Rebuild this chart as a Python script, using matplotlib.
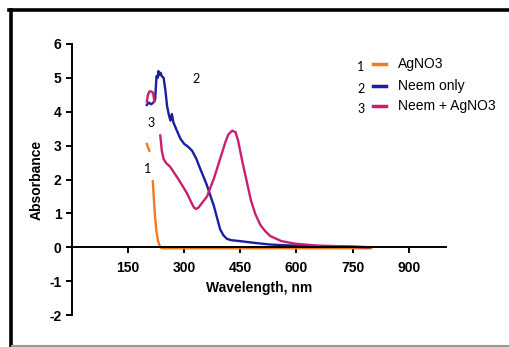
import matplotlib.pyplot as plt
from matplotlib.lines import Line2D
import numpy as np

# data
orange_wl = [200, 203, 207, np.nan, 216, 219, 222, 226, 230, 234, 238, 245, 800]
orange_abs = [3.05, 2.95, 2.85, np.nan, 1.95, 1.4, 0.9, 0.45, 0.18, 0.05, -0.02, -0.03, -0.03]

blue_wl = [200, 205, 212, 218, 222, 226, 229, 231, 234, 237, 240, 245, 250, 254, 258, 263, 267,
           271, 280, 290, 300, 310, 321, 332, 343, 352, 361, 370, 379, 388, 396, 405, 414, 425,
           450, 480, 504, 530, 565, 600, 655, 720, 794]
blue_abs = [4.2, 4.27, 4.22, 4.28, 4.35, 5.05, 5.0, 5.2, 5.08, 5.15, 5.05, 5.0, 4.6, 4.18, 3.95,
            3.74, 3.93, 3.69, 3.45, 3.2, 3.05, 2.97, 2.85, 2.62, 2.31, 2.07, 1.82, 1.52, 1.23,
            0.86, 0.53, 0.35, 0.25, 0.21, 0.18, 0.14, 0.11, 0.08, 0.06, 0.05, 0.03, 0.02, 0.0]

pink_wl = [200, 203, 207, 212, 217, 220, np.nan, 236, 240, 245, 252, 262, 285, 307, 320, 326,
           332, 338, 345, 361, 380, 400, 410, 418, 428, 437, 444, 455, 468, 478, 490, 504, 517,
           530, 560, 600, 655, 745, 794]
pink_abs = [4.3, 4.5, 4.6, 4.6, 4.55, 4.3, np.nan, 3.3, 2.85, 2.6, 2.48, 2.38, 2.0, 1.6, 1.3,
            1.17, 1.13, 1.17, 1.27, 1.5, 2.05, 2.75, 3.1, 3.33, 3.44, 3.4, 3.15, 2.55, 1.9,
            1.4, 0.98, 0.65, 0.47, 0.33, 0.18, 0.1, 0.05, 0.02, 0.0]

series_names = ["AgNO3", "Neem only", "Neem + AgNO3"]
series_nums = ["1", "2", "3"]
colors = ["#F37A1F", "#1B1DA3", "#C8206F"]

xticks = [150, 300, 450, 600, 750, 900]
yticks = [-2, -1, 0, 1, 2, 3, 4, 5, 6]

plt.rcParams['font.family'] = ['Liberation Sans', 'DejaVu Sans']
plt.rcParams['axes.unicode_minus'] = False

fig = plt.figure(figsize=(5.09, 3.47), dpi=100)
ax = fig.add_axes([0.1415, 0.0922, 0.7348, 0.781])

ax.plot(orange_wl, orange_abs, color=colors[0], lw=1.7)
ax.plot(blue_wl, blue_abs, color=colors[1], lw=1.7)
ax.plot(pink_wl, pink_abs, color=colors[2], lw=1.7)

ax.set_xlim(0, 1000)
ax.set_ylim(-2, 6)
ax.set_xticks(xticks)
ax.set_yticks(yticks)

# axes cross at zero like the original software
ax.spines['bottom'].set_position(('data', 0))
ax.spines['top'].set_visible(False)
ax.spines['right'].set_visible(False)
for s in ['left', 'bottom']:
    ax.spines[s].set_linewidth(1.4)
ax.tick_params(axis='both', width=1.4, length=4, labelsize=10)
ax.tick_params(axis='x', pad=6)
for lab in ax.get_xticklabels() + ax.get_yticklabels():
    lab.set_fontweight('bold')

ax.set_xlabel("Wavelength, nm", fontsize=10, fontweight='bold', labelpad=4)
ax.set_ylabel("Absorbance", fontsize=10, fontweight='bold', labelpad=4)

# curve numbers
ax.text(332, 4.97, "2", fontsize=9, family=['Lato', 'DejaVu Sans'], ha='center', va='center')
ax.text(212, 3.67, "3", fontsize=9, family=['Lato', 'DejaVu Sans'], ha='center', va='center')
ax.text(203, 2.31, "1", fontsize=9, family=['Lato', 'DejaVu Sans'], ha='center', va='center')

# legend drawn by hand: number, short line, name
rows_y = [1 - 64 / 347, 1 - 86 / 347, 1 - 106 / 347]
for num, name, c, yy in zip(series_nums, series_names, colors, rows_y):
    fig.text(361 / 509, yy - 0.01, num, fontsize=9, family=['Lato', 'DejaVu Sans'],
             ha='center', va='center')
    fig.add_artist(Line2D([373 / 509, 386 / 509], [yy, yy], color=c, lw=2.5))
    fig.text(398 / 509, yy, name, fontsize=10, ha='left', va='center')

# outer frame (top and left edges)
fig.add_artist(Line2D([10.5 / 509, 10.5 / 509], [0, 1 - 9.5 / 347], color='black', lw=2.6))
fig.add_artist(Line2D([9.2 / 509, 1], [1 - 9.5 / 347, 1 - 9.5 / 347], color='black', lw=2.6))
fig.add_artist(Line2D([12 / 509, 1], [1.5 / 347, 1.5 / 347], color='#999999', lw=1.5))

fig.savefig("out.png", dpi=100)
